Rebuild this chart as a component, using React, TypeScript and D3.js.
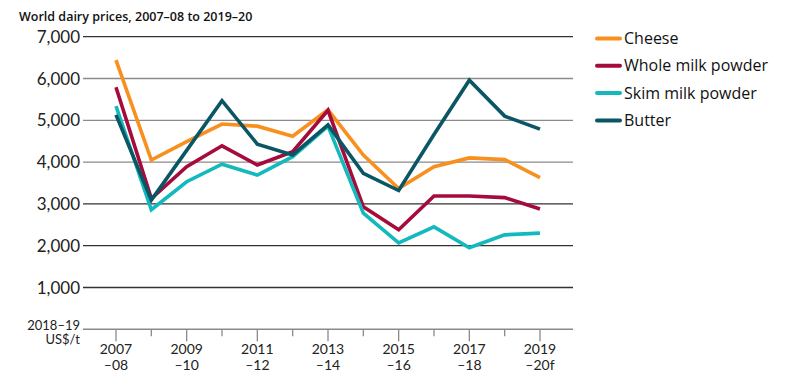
import React from "react";
import * as d3 from "d3";

// financial years, first year shown on top, second part underneath
const years = ["2007", "2008", "2009", "2010", "2011", "2012", "2013", "2014", "2015", "2016", "2017", "2018", "2019"];
const yearEnds = ["–08", "–09", "–10", "–11", "–12", "–13", "–14", "–15", "–16", "–17", "–18", "–19", "–20f"];

const cheese = [6440, 4050, 4490, 4910, 4860, 4620, 5250, 4170, 3370, 3890, 4100, 4060, 3630];
const wholeMilkPowder = [5790, 3130, 3890, 4390, 3930, 4250, 5240, 2930, 2380, 3190, 3190, 3150, 2880];
const skimMilkPowder = [5340, 2860, 3530, 3950, 3690, 4130, 4860, 2780, 2070, 2450, 1950, 2260, 2300];
const butter = [5130, 3090, 4280, 5470, 4430, 4170, 4890, 3730, 3320, 4660, 5960, 5100, 4790];

const yTicks = [1000, 2000, 3000, 4000, 5000, 6000, 7000];
const darkGrid = [1000, 2000, 3000, 7000];

const series = [
  { name: "Cheese", values: cheese, color: "#F7901E" },
  { name: "Whole milk powder", values: wholeMilkPowder, color: "#A50B3B" },
  { name: "Skim milk powder", values: skimMilkPowder, color: "#14B9BE" },
  { name: "Butter", values: butter, color: "#0B5664" },
];

const width = 798;
const height = 390;
const plotLeft = 83;
const plotRight = 573;

export default function App() {
  const x = d3.scaleLinear().domain([0, years.length - 1]).range([116, 540]);
  const y = d3.scaleLinear().domain([0, 7000]).range([329.3, 36.7]);
  const line = d3.line<number>().x((d, i) => x(i)).y(d => y(d));
  const fmt = d3.format(",");
  const numFont = "Lato, sans-serif";

  return (
    <svg width={width} height={height} style={{ position: "absolute", left: 0, top: 0, background: "#fff" }}>
      <text x={19} y={21} fontFamily="'Open Sans', sans-serif" fontWeight={600} fontSize={12.5} fill="#111">
        World dairy prices, 2007–08 to 2019–20
      </text>

      {/* gridlines + y labels */}
      {yTicks.map(t => (
        <g key={t}>
          <line x1={plotLeft} x2={plotRight} y1={y(t)} y2={y(t)}
            stroke={darkGrid.includes(t) ? "#333" : "#8a8a8a"} strokeWidth={1.3} />
          <text x={80} y={y(t)} dy="0.36em" textAnchor="end" fontFamily={numFont} fontSize={17} fill="#222">
            {fmt(t)}
          </text>
        </g>
      ))}

      {/* x axis */}
      <line x1={plotLeft} x2={plotRight} y1={y(0)} y2={y(0)} stroke="#8a8a8a" strokeWidth={1.5} />
      {years.map((yr, i) => {
        const major = i % 2 === 0;
        return (
          <g key={yr}>
            <line x1={x(i)} x2={x(i)} y1={y(0)} y2={y(0) + (major ? 12 : 7)} stroke="#8a8a8a" strokeWidth={1.3} />
            {major && (
              <text x={x(i)} textAnchor="middle" fontFamily={numFont} fontSize={14} fill="#222">
                <tspan x={x(i)} y={354}>{yr}</tspan>
                <tspan x={x(i)} y={369.5}>{yearEnds[i]}</tspan>
              </text>
            )}
          </g>
        );
      })}
      <text textAnchor="end" fontFamily={numFont} fontSize={13} fill="#222">
        <tspan x={80} y={329.5}>2018–19</tspan>
        <tspan x={80} y={344}>US$/t</tspan>
      </text>

      {/* series */}
      {series.map(s => (
        <path key={s.name} d={line(s.values) || ""} fill="none" stroke={s.color} strokeWidth={3.6} />
      ))}

      {/* legend */}
      {series.map((s, i) => {
        const ly = 38.5 + i * 27.3;
        return (
          <g key={s.name}>
            <line x1={597} x2={620} y1={ly} y2={ly} stroke={s.color} strokeWidth={4} strokeLinecap="round" />
            <text x={624} y={ly} dy="0.35em" fontFamily="'Open Sans', sans-serif" fontSize={16} fill="#111">
              {s.name}
            </text>
          </g>
        );
      })}
    </svg>
  );
}
